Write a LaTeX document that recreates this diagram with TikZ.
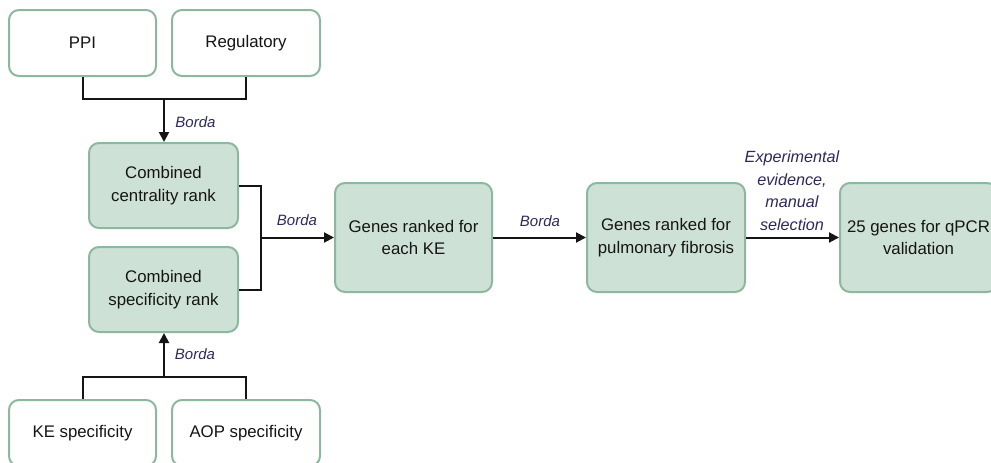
\documentclass[tikz,border=0pt]{standalone}
\usepackage{fontspec}
\setmainfont{Liberation Sans}
\usetikzlibrary{arrows.meta}
\definecolor{boxfill}{HTML}{CEE1D7}
\definecolor{boxline}{HTML}{8DB89E}
\definecolor{txt}{HTML}{151515}
\definecolor{lab}{HTML}{2E2A5C}
\definecolor{conn}{HTML}{151515}
\tikzset{
  base/.style={draw=boxline, line width=2pt, rounded corners=10pt, align=center,
    text=txt, font=\fontsize{16.8}{22.8}\selectfont, inner sep=0pt},
  whitebox/.style={base, fill=white, minimum width=147pt, minimum height=66pt},
  greenbox/.style={base, fill=boxfill},
  link/.style={draw=conn, line width=2pt},
  arr/.style={link, -{Triangle[length=10pt,width=10pt]}},
  lbl/.style={text=lab, font=\fontsize{15}{22.7}\selectfont\itshape, align=center, inner sep=0pt}
}
\begin{document}
\begin{tikzpicture}[x=1pt,y=-1pt]
\useasboundingbox (0,0) rectangle (991,463);
\clip (0,0) rectangle (991,463);
\fill[white] (0,0) rectangle (991,463);

\node[whitebox] (ppi) at (82.5,43) {PPI};
\node[whitebox, minimum width=148pt] (reg) at (246,43) {Regulatory};
\node[greenbox, minimum width=149pt, minimum height=85pt] (cent) at (163.5,185.5) {Combined\\centrality rank};
\node[greenbox, minimum width=149pt, minimum height=85pt] (spec) at (163.5,289.5) {Combined\\specificity rank};
\node[greenbox, minimum width=157pt, minimum height=109pt] (genes) at (413.5,237.5) {Genes ranked for\\each KE};
\node[greenbox, minimum width=158pt, minimum height=109pt] (pulm) at (666,237.5) {Genes ranked for\\pulmonary fibrosis};
\node[greenbox, minimum width=157pt, minimum height=109pt] (final) at (918.5,237.5) {25 genes for qPCR\\validation};
\node[whitebox] (ke) at (82.5,433) {KE specificity};
\node[whitebox, minimum width=148pt] (aop) at (246,433) {AOP specificity};

\coordinate (j1) at (164,99);
\coordinate (j2) at (261,237.5);
\coordinate (j3) at (164,377);

\draw[link] (ppi.south) |- (j1) -| (reg.south);
\draw[arr] (j1) -- (j1 |- cent.north);
\node[lbl] (b1) at (195.5,122) {Borda};

\draw[link] (cent.east) -| (j2) |- (spec.east);
\draw[arr] (j2) -- (genes.west);
\node[lbl] (b2) at (297,220) {Borda};

\draw[link] (ke.north) |- (j3) -| (aop.north);
\draw[arr] (j3) -- (j3 |- spec.south);
\node[lbl] (b3) at (195,354) {Borda};

\draw[arr] (genes.east) -- (pulm.west);
\node[lbl] (b4) at (540,221) {Borda};

\draw[arr] (pulm.east) -- (final.west);
\node[lbl, font=\fontsize{16.2}{22.7}\selectfont\itshape, anchor=south] (b5) at (792,231) {Experimental\\evidence,\\manual\\selection};
\end{tikzpicture}
\end{document}
